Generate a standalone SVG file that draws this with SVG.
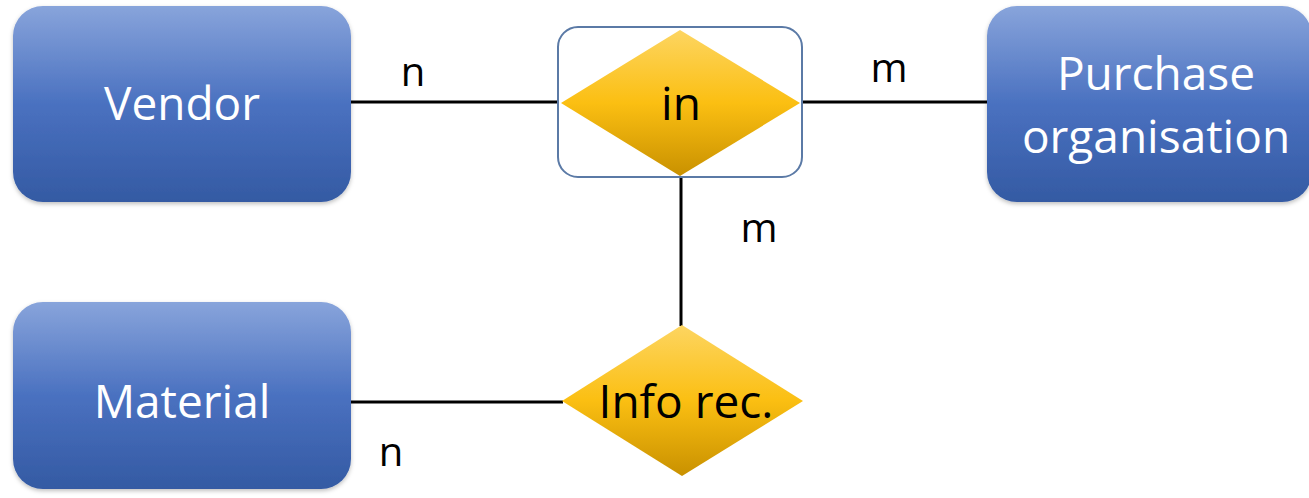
<svg xmlns="http://www.w3.org/2000/svg" width="1309" height="498" viewBox="0 0 1309 498">
<defs>
<linearGradient id="blue" x1="0" y1="0" x2="0" y2="1">
<stop offset="0" stop-color="#88a4db"/>
<stop offset="0.5" stop-color="#4a71c0"/>
<stop offset="1" stop-color="#345aa3"/>
</linearGradient>
<linearGradient id="gold" x1="0" y1="0" x2="0" y2="1">
<stop offset="0" stop-color="#fdd561"/>
<stop offset="0.5" stop-color="#fbbf12"/>
<stop offset="1" stop-color="#c99100"/>
</linearGradient>
<filter id="sh" x="-10%" y="-10%" width="120%" height="125%">
<feDropShadow dx="0" dy="2" stdDeviation="2" flood-color="#000" flood-opacity="0.25"/>
</filter>
</defs>
<style>
.ent{fill:url(#blue);filter:url(#sh)}
.rel{fill:url(#gold)}
.wt{font-family:"Open Sans","Liberation Sans",sans-serif;font-size:46px;fill:#ffffff;text-anchor:middle}
.bt{font-family:"Open Sans","Liberation Sans",sans-serif;font-size:46px;fill:#000000;text-anchor:middle}
.lb{font-family:"Open Sans","Liberation Sans",sans-serif;font-size:40px;fill:#000000;text-anchor:middle}
.ln{stroke:#000;stroke-width:3;fill:none}
</style>
<rect width="1309" height="498" fill="#ffffff"/>
<g id="connectors">
<line class="ln" x1="351" y1="102" x2="561" y2="102"/>
<line class="ln" x1="800" y1="102" x2="987" y2="102"/>
<line class="ln" x1="681" y1="176" x2="681" y2="326"/>
<line class="ln" x1="351" y1="402" x2="563" y2="402"/>
<text class="lb" x="413" y="86">n</text>
<text class="lb" x="889" y="82">m</text>
<text class="lb" x="759" y="242">m</text>
<text class="lb" x="391" y="466">n</text>
</g>
<g id="vendor">
<rect class="ent" x="13" y="6" width="338" height="196" rx="30"/>
<text class="wt" x="182" y="120">Vendor</text>
</g>
<g id="material">
<rect class="ent" x="13" y="302" width="338" height="187" rx="30"/>
<text class="wt" x="182" y="418">Material</text>
</g>
<g id="purchase">
<rect class="ent" x="987" y="6" width="325" height="196" rx="30"/>
<text class="wt" x="1156" y="90">Purchase</text>
<text class="wt" x="1156" y="153">organisation</text>
</g>
<g id="in">
<rect x="558" y="27" width="244" height="150" rx="20" fill="#ffffff" stroke="#5b7aa6" stroke-width="2"/>
<polygon class="rel" points="680,30 800,103 680,176 561,103"/>
<text class="bt" x="681" y="120">in</text>
</g>
<g id="inforec">
<polygon class="rel" points="682,325 803,401 682,476 562,401"/>
<text class="bt" x="686" y="418">Info rec.</text>
</g>
</svg>
